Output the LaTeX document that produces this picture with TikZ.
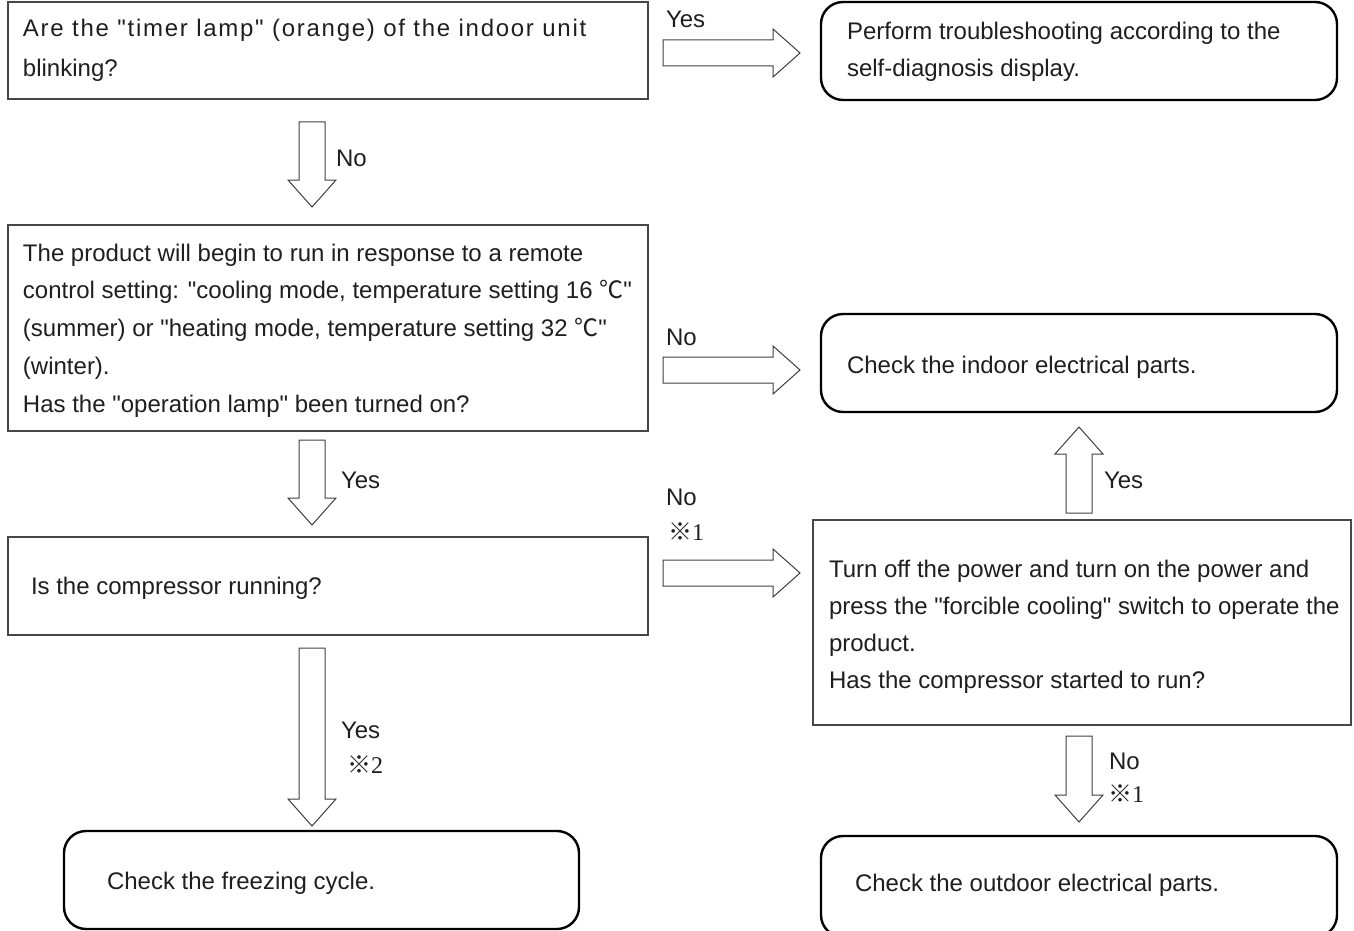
\documentclass[tikz,border=0pt]{standalone}
\usepackage{fontspec}
\setmainfont{Liberation Sans}[Ligatures=TeXOff]
\newfontfamily\cjkfont{Noto Sans CJK JP}
\newfontfamily\numfont{Liberation Serif}
\usetikzlibrary{calc}

\newcommand\rarr[2]{\draw[blk] let \p1=#1, \p2=#2 in
  (\x1,\y1+13pt) -- (\x2-27pt,\y1+13pt) -- (\x2-27pt,\y1+24pt) -- (\x2,\y1)
  -- (\x2-27pt,\y1-24pt) -- (\x2-27pt,\y1-13pt) -- (\x1,\y1-13pt) -- cycle;}
\newcommand\darr[2]{\draw[blk] let \p1=#1, \p2=#2 in
  (\x1-13pt,\y1) -- (\x1-13pt,\y2+27pt) -- (\x1-24pt,\y2+27pt) -- (\x1,\y2)
  -- (\x1+24pt,\y2+27pt) -- (\x1+13pt,\y2+27pt) -- (\x1+13pt,\y1) -- cycle;}
\newcommand\uarr[2]{\draw[blk] let \p1=#1, \p2=#2 in
  (\x1-13pt,\y1) -- (\x1-13pt,\y2-27pt) -- (\x1-24pt,\y2-27pt) -- (\x1,\y2)
  -- (\x1+24pt,\y2-27pt) -- (\x1+13pt,\y2-27pt) -- (\x1+13pt,\y1) -- cycle;}
\newcommand\kome[1]{{\cjkfont ※}{\numfont #1}}

\begin{document}
\begin{tikzpicture}[x=1pt,y=-1pt,
  sqbox/.style={draw=black!72, line width=1.3pt, inner sep=0pt, outer sep=0pt, anchor=north west},
  rbox/.style={draw=black, line width=2.4pt, rounded corners=22pt, inner sep=0pt, outer sep=0pt, anchor=north west},
  txt/.style={inner sep=0pt, outer sep=0pt, anchor=base west, font=\fontsize{24pt}{37.75pt}\selectfont, text=black!88},
  lbl/.style={txt},
  blk/.style={draw=black!75, line width=1pt, fill=white}]
\useasboundingbox (0,0) rectangle (1354,931);
\fill[white] (0,0) rectangle (1354,931);

% boxes
\node[sqbox, minimum width=640pt, minimum height=97pt] (q1) at (8,2) {};
\node[rbox, minimum width=516pt, minimum height=98pt] (r1) at (821,2) {};
\node[sqbox, minimum width=640pt, minimum height=206pt] (q2) at (8,225) {};
\node[rbox, minimum width=516pt, minimum height=98pt] (r2) at (821,314) {};
\node[sqbox, minimum width=640pt, minimum height=98pt] (q3) at (8,537) {};
\node[sqbox, minimum width=538pt, minimum height=205pt] (q4) at (813,520) {};
\node[rbox, minimum width=515pt, minimum height=98pt] (r3) at (64,831) {};
\node[rbox, minimum width=516pt, minimum height=101pt] (r4) at (821,836) {};

% texts
\node[txt] (q1t) at (23,37) {\vtop{\baselineskip=40pt
  \hbox{\addfontfeature{LetterSpace=7.2}Are the "timer lamp" (orange) of the indoor unit}
  \hbox{blinking?}}};
\node[txt] (r1t) at (847,40) {\vtop{\baselineskip=37pt
  \hbox{Perform troubleshooting according to the}
  \hbox{self-diagnosis display.}}};
\node[txt] (q2t) at (23,261) {\vtop{\baselineskip=37.75pt
  \hbox{The product will begin to run in response to a remote}
  \hbox{control setting: "cooling mode, temperature setting 16 {\cjkfont ℃}"}
  \hbox{(summer) or "heating mode, temperature setting 32 {\cjkfont ℃}"}
  \hbox{(winter).}
  \hbox{Has the "operation lamp" been turned on?}}};
\node[txt] (r2t) at (847,373) {Check the indoor electrical parts.};
\node[txt] (q3t) at (31,594) {Is the compressor running?};
\node[txt] (q4t) at (829,577) {\vtop{\baselineskip=37.3pt
  \hbox{Turn off the power and turn on the power and}
  \hbox{press the "forcible cooling" switch to operate the}
  \hbox{product.}
  \hbox{Has the compressor started to run?}}};
\node[txt] (r3t) at (107,889) {Check the freezing cycle.};
\node[txt] (r4t) at (855,891) {Check the outdoor electrical parts.};

% block arrows
\rarr{($(q1.north east)+(15,51)$)}{($(r1.north west)+(-21,51)$)}
\rarr{($(q2.north east)+(15,145)$)}{($(r2.north west)+(-21,56)$)}
\rarr{($(q3.north east)+(15,36)$)}{($(q4.north west)+(-13,53)$)}
\darr{($(q1.south west)+(304,23)$)}{($(q2.north west)+(304,-18)$)}
\darr{($(q2.south west)+(304,9)$)}{($(q3.north west)+(304,-12)$)}
\darr{($(q3.south west)+(304,13)$)}{($(r3.north west)+(248,-5)$)}
\uarr{($(q4.north west)+(266,-7)$)}{($(r2.south west)+(258,15)$)}
\darr{($(q4.south west)+(266,11)$)}{($(r4.north west)+(258,-14)$)}

% labels
\node[lbl] (l1) at (666,28) {Yes};
\node[lbl] (l2) at (336,166) {No};
\node[lbl] (l3) at (666,345) {No};
\node[lbl] (l4) at (341,488) {Yes};
\node[lbl] (l5) at (666,505) {\vtop{\baselineskip=35pt\hbox{No}\hbox{\kern2pt\kome{1}}}};
\node[lbl] (l6) at (1104,488) {Yes};
\node[lbl] (l7) at (341,738) {\vtop{\baselineskip=35pt\hbox{Yes}\hbox{\kern6pt\kome{2}}}};
\node[lbl] (l8) at (1109,769) {\vtop{\baselineskip=33pt\hbox{No}\hbox{\kern-1pt\kome{1}}}};
\end{tikzpicture}
\end{document}
